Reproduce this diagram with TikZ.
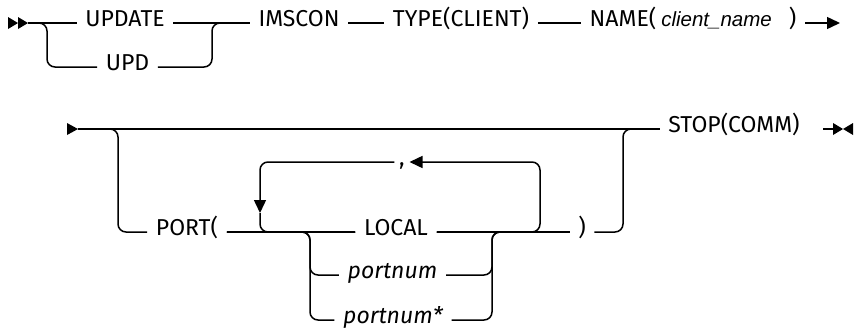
\documentclass[tikz,border=0pt]{standalone}
\usepackage{fontspec}
\setmainfont{Fira Sans}
\newfontfamily\arialfont{Liberation Sans}
\usetikzlibrary{positioning, arrows.meta}

\begin{document}
\begin{tikzpicture}[x=1pt, y=1pt, line width=1.5pt,
  kw/.style={inner xsep=8pt, inner ysep=0pt, text height=1.35ex, text depth=0pt, font=\fontsize{23}{26}\selectfont},
  rail/.style={rounded corners=8pt},
  tip/.style={-{Triangle[length=13pt, width=12pt]}}]
\useasboundingbox (0,0) rectangle (855,-332);
% first line
\coordinate (s1) at (28,-23);
\fill (8,-17) -- (18,-23) -- (8,-29) -- cycle (18,-17) -- (28,-23) -- (18,-29) -- cycle;
\node[kw] (update) at (125,-23) {UPDATE};
\node[kw] (upd) at (127.5,-67) {UPD};
\node[kw] (imscon) at (299,-23) {IMSCON};
\node[kw] (type) at (461,-23) {TYPE(CLIENT)};
\node[kw] (name) at (693,-23) {NAME(\hspace{5pt}{\arialfont\fontsize{20.5}{24}\selectfont\itshape client\_name}\hspace{17pt})};
\coordinate (e1) at (840,-23);
\draw (s1) -- (update);
\draw[rail] (s1) -| (47,-67) -- (upd);
\draw (update) -- (imscon);
\draw[rail] (upd) -| (212,-23) -- (imscon);
\draw (imscon) -- (type);
\draw (type) -- (name);
\draw[tip] (name) -- (e1);
% second line
\coordinate (s2) at (78,-129);
\fill (67,-123) -- (78,-129) -- (67,-135) -- cycle;
\node[kw] (stop) at (734,-129) {STOP(COMM)};
\node[kw] (port) at (187,-232) {PORT(};
\node[kw] (local) at (396,-232) {LOCAL};
\node[kw] (pn) at (392.5,-275) {\itshape portnum};
\node[kw] (pns) at (393,-320) {\itshape portnum*};
\node[kw, inner xsep=4pt] (comma) at (402,-162) {,};
\node[kw] (rpar) at (582,-232) {)};
\coordinate (down) at (260,-213);
\draw (s2) -- (stop);
\draw[rail] (s2) -| (118,-232) -- (port);
\draw (port) -- (local);
\draw[rail] (port) -| (310,-275) -- (pn);
\draw[rail] (port) -| (310,-320) -- (pns);
\draw (local) -- (rpar);
\draw[rail] (pn) -| (492,-232) -- (rpar);
\draw[rail] (pns) -| (492,-232) -- (rpar);
\draw[rail, tip] (local) -| (540,-162) -- (comma);
\draw[rail, tip] (comma) -| (down);
\draw[rail] (down) |- (local);
\draw[rail] (rpar) -| (623,-129) -- (stop);
\coordinate (e2) at (823,-129);
\draw (e2) -- (834,-129);
\fill (833,-123) -- (843,-129) -- (833,-135) -- cycle (853,-123) -- (843,-129) -- (853,-135) -- cycle;
\end{tikzpicture}
\end{document}
